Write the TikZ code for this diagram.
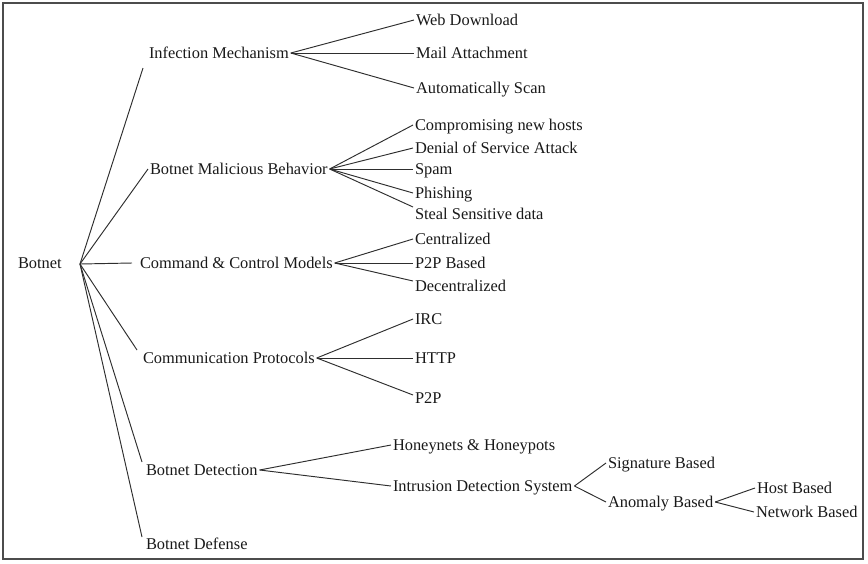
\documentclass[tikz,border=0pt]{standalone}
\usepackage{fontspec}
\setmainfont{Liberation Serif}
\begin{document}
\begin{tikzpicture}[x=1pt,y=-1pt,
  txt/.style={anchor=west, inner sep=0pt, outer sep=2pt, text height=11pt, text depth=0pt,
    font=\fontsize{16.4}{19}\selectfont, text=black!90},
  conn/.style={draw=black!82, line width=0.95pt}]
\useasboundingbox (0,0) rectangle (868,563);
\draw[gray!60!black, line width=1.4pt] (3,3) rectangle (863,559);

% root
\node[txt] (bot) at (16,263) {Botnet};
\coordinate (bj) at (80,264);

% level 1
\node[txt] (im) at (147,53) {Infection Mechanism};
\node[txt] (mb) at (148,169) {Botnet Malicious Behavior};
\node[txt] (cc) at (138,263) {Command \& Control Models};
\node[txt] (cp) at (141,358) {Communication Protocols};
\node[txt] (bd) at (144,470) {Botnet Detection};
\node[txt] (bf) at (144,544) {Botnet Defense};

% infection children
\node[txt] (wd) at (414,20) {Web Download};
\node[txt] (ma) at (414,53) {Mail Attachment};
\node[txt] (as) at (414,88) {Automatically Scan};

% malicious children
\node[txt] (cn) at (413,125) {Compromising new hosts};
\node[txt] (ds) at (413,148) {Denial of Service Attack};
\node[txt] (sp) at (413,169) {Spam};
\node[txt] (ph) at (413,193) {Phishing};
\node[txt] (ss) at (413,214) {Steal Sensitive data};

% C&C children
\node[txt] (ce) at (413,239) {Centralized};
\node[txt] (pb) at (413,263) {P2P Based};
\node[txt] (de) at (413,286) {Decentralized};

% protocol children
\node[txt] (irc) at (413,319) {IRC};
\node[txt] (http) at (413,358) {HTTP};
\node[txt] (pp) at (413,398) {P2P};

% detection children
\node[txt] (hh) at (391,445) {Honeynets \& Honeypots};
\node[txt] (ids) at (391,486) {Intrusion Detection System};
\node[txt] (sig) at (606,463) {Signature Based};
\node[txt] (an) at (606,502) {Anomaly Based};
\node[txt] (hb) at (755,488) {Host Based};
\node[txt] (nb) at (754,512) {Network Based};

% connectors from root
\draw[conn] (bj) -- ([shift={(-4,15)}]im.west);
\draw[conn] (bj) -- (mb.west);
\draw[conn] (bj) -- ([xshift=-6pt]cc.west);
\draw[conn] (bj) -- ([shift={(-4,-8)}]cp.west);
\draw[conn] (bj) -- ([shift={(-2,-8)}]bd.west);
\draw[conn] (bj) -- ([shift={(-2,-7)}]bf.west);

\foreach \c in {wd,ma,as} \draw[conn] (im.east) -- (\c.west);
\foreach \c in {cn,ds,sp,ph} \draw[conn] (mb.east) -- (\c.west);
\draw[conn] (mb.east) -- ([yshift=7pt]ss.west);
\foreach \c in {ce,pb} \draw[conn] (cc.east) -- (\c.west);
\draw[conn] (cc.east) -- ([yshift=5pt]de.west);
\foreach \c in {irc,http} \draw[conn] (cp.east) -- (\c.west);
\draw[conn] (cp.east) -- ([yshift=3pt]pp.west);
\foreach \c in {hh,ids} \draw[conn] (bd.east) -- (\c.west);
\foreach \c in {sig,an} \draw[conn] (ids.east) -- (\c.west);
\foreach \c in {hb,nb} \draw[conn] (an.east) -- (\c.west);
\end{tikzpicture}
\end{document}
